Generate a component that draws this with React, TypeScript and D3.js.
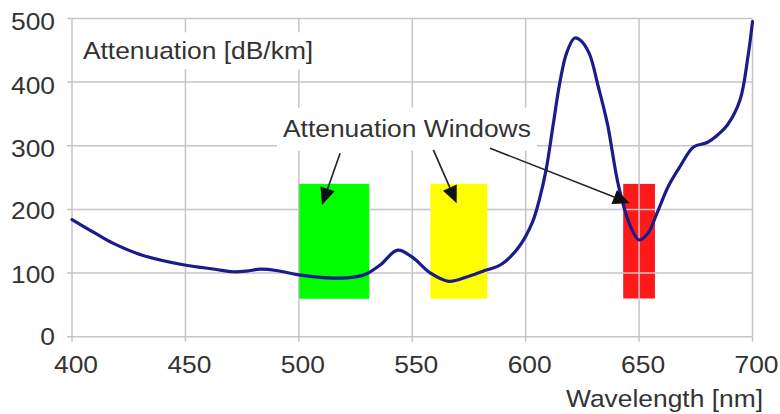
import React from "react";
import * as d3 from "d3";

const wavelengths = [400, 410, 418, 431, 449, 463, 471, 477, 483, 490, 500, 515, 525, 530, 536, 543.5, 550, 558, 566, 575, 583, 589, 597, 603, 606, 609, 612, 615, 618, 621.5, 624, 628, 632, 636, 641, 646, 650, 654, 658, 663, 668, 674, 680, 685, 689, 694.5, 698, 700];
const attenuation = [184, 163, 147, 128, 113, 106, 102, 103, 106, 104, 97, 92, 94, 99, 113, 136, 125, 100, 87, 95, 105, 113, 141, 180, 215, 262, 330, 398, 445, 469, 466, 445, 393, 335, 236, 175, 152, 163, 195, 237, 267, 298, 305, 318, 333, 372, 440, 495];

const xTicks = [400, 450, 500, 550, 600, 650, 700];
const yTicks = [0, 100, 200, 300, 400, 500];

const windowStart = [500, 558, 643];
const windowEnd = [531, 583, 657];
const windowLow = [60, 60, 60];
const windowHigh = [240, 240, 240];
const windowColors = ["#00ff00", "#ffff00", "#ff0000"];

const arrowFromX = [518.2, 559.3, 584.3];
const arrowFromY = [288.3, 293.4, 296.1];
const arrowToX = [510.2, 569.6, 646];
const arrowToY = [207, 209.7, 209.7];

const yTitle = "Attenuation [dB/km]";
const xTitle = "Wavelength [nm]";
const annotation = "Attenuation Windows";

const W = 780, H = 414;
const x = d3.scaleLinear().domain([400, 700]).range([72, 752.5]);
const y = d3.scaleLinear().domain([0, 500]).range([336.7, 18.4]);

const FONT = "'Liberation Sans', Arial, sans-serif";
const TXT = "#333333";
const GRID = "#c6c4c8";

function Label({ px, py, text, anchor = "start", size = 24 }: any) {
  return (
    <g transform={`translate(${px},${py}) scale(1.1,1)`}>
      <text x={0} y={0} textAnchor={anchor} fontFamily={FONT} fontSize={size} fill={TXT}>{text}</text>
    </g>
  );
}

export default function App() {
  const line = d3.line<number>()
    .x((_, i) => x(wavelengths[i]))
    .y((d) => y(d))
    .curve(d3.curveCatmullRom.alpha(0.5));
  const path = line(attenuation) || "";

  const arrows = arrowFromX.map((fx, i) => {
    const x1 = x(fx), y1 = y(arrowFromY[i]);
    const x2 = x(arrowToX[i]), y2 = y(arrowToY[i]);
    const ang = Math.atan2(y2 - y1, x2 - x1);
    const L = 17, hw = 7.5;
    const bx = x2 - L * Math.cos(ang), by = y2 - L * Math.sin(ang);
    const px = -Math.sin(ang), py = Math.cos(ang);
    const head = `M${x2},${y2}L${bx + px * hw},${by + py * hw}L${bx - px * hw},${by - py * hw}Z`;
    return { x1, y1, bx, by, head };
  });

  const l1x = x(404.8), l1y = y(435.8);
  const l2x = x(493), l2y = y(314.3);

  return (
    <svg width={W} height={H} style={{ position: "absolute", left: 0, top: 0, background: "#fff" }}>
      <rect x={0} y={0} width={W} height={H} fill="#fff" />
      {/* windows */}
      {windowStart.map((s, i) => (
        <rect key={"w" + i} x={x(s)} y={y(windowHigh[i])} width={x(windowEnd[i]) - x(s)}
          height={y(windowLow[i]) - y(windowHigh[i])} fill={windowColors[i]} fillOpacity={i === 2 ? 0.9 : 1} />
      ))}
      {/* grid */}
      {yTicks.map((t) => (
        <line key={"gy" + t} x1={x(400) - 5} x2={x(700)} y1={y(t)} y2={y(t)} stroke={GRID} strokeWidth={1.5} />
      ))}
      {xTicks.map((t) => (
        <line key={"gx" + t} x1={x(t)} x2={x(t)} y1={y(500)} y2={y(0) + 5} stroke={GRID} strokeWidth={1.5} />
      ))}
      {/* redraw green and yellow over grid */}
      {windowStart.slice(0, 2).map((s, i) => (
        <rect key={"wo" + i} x={x(s) + 0.8} y={y(windowHigh[i])} width={x(windowEnd[i]) - x(s) - 0.8}
          height={y(windowLow[i]) - y(windowHigh[i])} fill={windowColors[i]} />
      ))}
      {/* label backgrounds */}
      <rect x={l1x - 5} y={l1y - 27} width={244} height={37} fill="#fff" />
      <rect x={l2x - 6} y={l2y - 29} width={260} height={43} fill="#fff" />
      {/* curve */}
      <path d={path} fill="none" stroke="#1b1b8c" strokeWidth={3.2} strokeLinejoin="round" strokeLinecap="round" />
      {/* arrows */}
      {arrows.map((a, i) => (
        <g key={"a" + i}>
          <line x1={a.x1} y1={a.y1} x2={a.bx} y2={a.by} stroke="#222" strokeWidth={1.6} />
          <path d={a.head} fill="#111" />
        </g>
      ))}
      {/* tick labels */}
      {yTicks.map((t) => (
        <Label key={"yl" + t} px={55} py={y(t) + 8.5 + (t >= 300 ? 3 : t > 0 ? 1 : 0)} text={String(t)} anchor="end" />
      ))}
      {xTicks.map((t) => (
        <Label key={"xl" + t} px={x(t) + 4} py={373} text={String(t)} anchor="middle" />
      ))}
      <Label px={l1x} py={l1y} text={yTitle} />
      <Label px={l2x} py={l2y} text={annotation} />
      <Label px={763} py={407} text={xTitle} anchor="end" />
    </svg>
  );
}
